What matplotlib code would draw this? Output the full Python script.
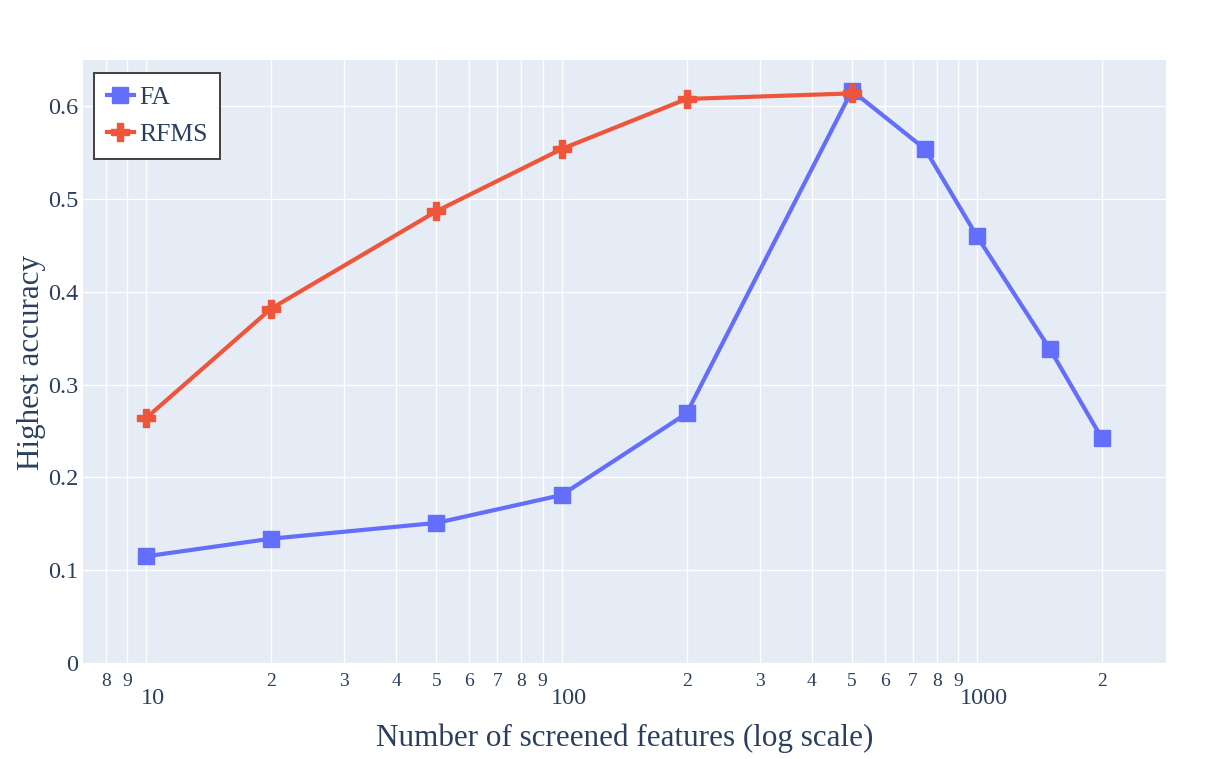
import matplotlib
matplotlib.use("Agg")
import matplotlib.pyplot as plt
from matplotlib.ticker import FixedLocator, FixedFormatter
from matplotlib.transforms import ScaledTranslation

fa_x = [10, 20, 50, 100, 200, 500, 750, 1000, 1500, 2000]
fa_y = [0.115, 0.134, 0.151, 0.181, 0.269, 0.617, 0.554, 0.460, 0.338, 0.242]
rf_x = [10, 20, 50, 100, 200, 500]
rf_y = [0.264, 0.382, 0.487, 0.554, 0.608, 0.614]

major_ticks = [10, 100, 1000]
major_labels = ["10", "100", "1000"]
minor_ticks = [8, 9, 20, 30, 40, 50, 60, 70, 80, 90, 200, 300, 400, 500, 600, 700, 800, 900, 2000]
minor_labels = ["8", "9", "2", "3", "4", "5", "6", "7", "8", "9", "2", "3", "4", "5", "6", "7", "8", "9", "2"]
y_ticks = [0, 0.1, 0.2, 0.3, 0.4, 0.5, 0.6]
y_labels = ["0", "0.1", "0.2", "0.3", "0.4", "0.5", "0.6"]

plt.rcParams['font.family'] = ['Liberation Serif', 'DejaVu Serif']
txt = '#2a3f5f'
W, H = 1217, 759
fig = plt.figure(figsize=(W/100, H/100), dpi=100)
ax = fig.add_axes([83/W, 1-663/H, (1166-83)/W, (663-60)/H])
ax.set_facecolor('#E5ECF6')
for s in ax.spines.values():
    s.set_visible(False)

ax.set_xscale('log')
ax.set_xlim(7.05, 2851)
ax.set_ylim(0, 0.65)

ax.plot(fa_x, fa_y, color='#636efa', lw=3.0, marker='s', ms=11, label='FA', zorder=3)
ax.plot(rf_x, rf_y, color='#EF553B', lw=3.0, marker='P', ms=13, label='RFMS', zorder=4)

ax.xaxis.set_major_locator(FixedLocator(major_ticks))
ax.xaxis.set_major_formatter(FixedFormatter(major_labels))
ax.xaxis.set_minor_locator(FixedLocator(minor_ticks))
ax.xaxis.set_minor_formatter(FixedFormatter(minor_labels))
ax.tick_params(axis='x', which='major', length=0, pad=18, labelsize=17.5, labelcolor=txt)
ax.tick_params(axis='x', which='minor', length=0, pad=7.5, labelsize=14, labelcolor=txt)
ax.set_yticks(y_ticks)
ax.set_yticklabels(y_labels)
ax.tick_params(axis='y', length=0, pad=3.5, labelsize=17.5, labelcolor=txt)

shift = ScaledTranslation(7/100, 0, fig.dpi_scale_trans)
for t in ax.xaxis.get_major_ticks():
    t.label1.set_transform(t.label1.get_transform() + shift)

ax.grid(True, which='both', color='white', lw=1.0, zorder=0)
ax.set_axisbelow(True)

ax.set_xlabel('Number of screened features (log scale)', fontsize=22.4, color=txt, va='center')
ax.xaxis.set_label_coords(0.5, (663-738)/603)
ax.set_ylabel('Highest accuracy', fontsize=22.4, color=txt, va='center', ha='center')
ax.yaxis.set_label_coords((32-83)/1083, (663-362.5)/603)

leg = ax.legend(loc='upper left', bbox_to_anchor=(11/1083, 1-13/603), fontsize=18.5,
                frameon=True, fancybox=False, borderpad=0.5, handlelength=1.05,
                handletextpad=0.2, labelspacing=0.55, borderaxespad=0)
leg.get_frame().set_edgecolor('#444444')
leg.get_frame().set_linewidth(1.44)
leg.get_frame().set_facecolor('white')
leg.get_frame().set_alpha(1)
for t in leg.get_texts():
    t.set_color(txt)

fig.savefig('out.png', dpi=100)
